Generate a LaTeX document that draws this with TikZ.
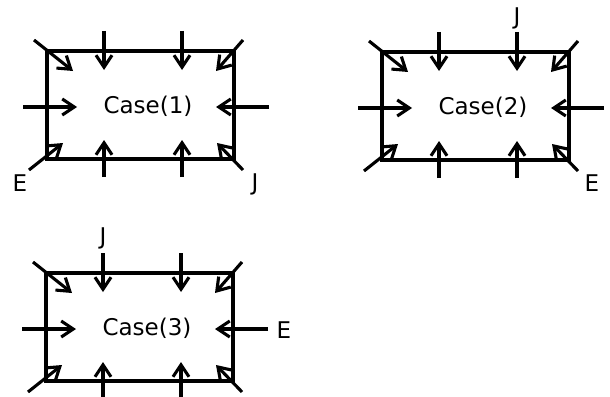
\documentclass[tikz,border=0pt]{standalone}
\usepackage{fontspec}
\setmainfont{DejaVu Sans}
\usetikzlibrary{arrows.meta}
\tikzset{
  boxline/.style={line width=3.2pt, line join=miter},
  conn/.style={line width=3.1pt, -{Straight Barb[length=12pt,width=16pt]}},
  lbl/.style={inner sep=0pt, font=\fontsize{23}{27}\selectfont, text=black},
}
\newcommand\casediagram[4]{%
\begin{scope}[shift={(#1,#2)}]
  \coordinate (#3tl) at (0,0);
  \coordinate (#3br) at (187,108);
  \draw[boxline] (#3tl) rectangle (#3br);
  \node[lbl] (#3text) at (101,55) {#4};
  \foreach \n/\a/\b/\c/\d in {
      ta/57/-20/57/19, tb/135/-20/135/19,
      ba/57/126/57/89, bb/135/126/135/89,
      le/-24/56/30/56, ri/222/56/169/56,
      dtl/-13/-11/26/20, dtr/196/-11/169/20,
      dbl/-18/119/16/92, dbr/196/119/170/92} {
    \coordinate (#3\n s) at (\a,\b);
    \coordinate (#3\n e) at (\c,\d);
    \draw[conn] (#3\n s) -- (#3\n e);
  }
\end{scope}}
\begin{document}
\begin{tikzpicture}[x=1pt,y=-1pt]
  \useasboundingbox (0,0) rectangle (610,396);
  \clip (0,0) rectangle (610,396);
  \casediagram{47}{51}{a}{Case(1)}
  \casediagram{382}{52}{b}{Case(2)}
  \casediagram{46}{273}{c}{Case(3)}
  \node[lbl] (aE) at (20,183) {E};
  \node[lbl] (aJ) at (255,184) {J};
  \node[lbl] (bJ) at (517,18) {J};
  \node[lbl] (bE) at (592,183) {E};
  \node[lbl] (cJ) at (103,238) {J};
  \node[lbl] (cE) at (284,330) {E};
\end{tikzpicture}
\end{document}
